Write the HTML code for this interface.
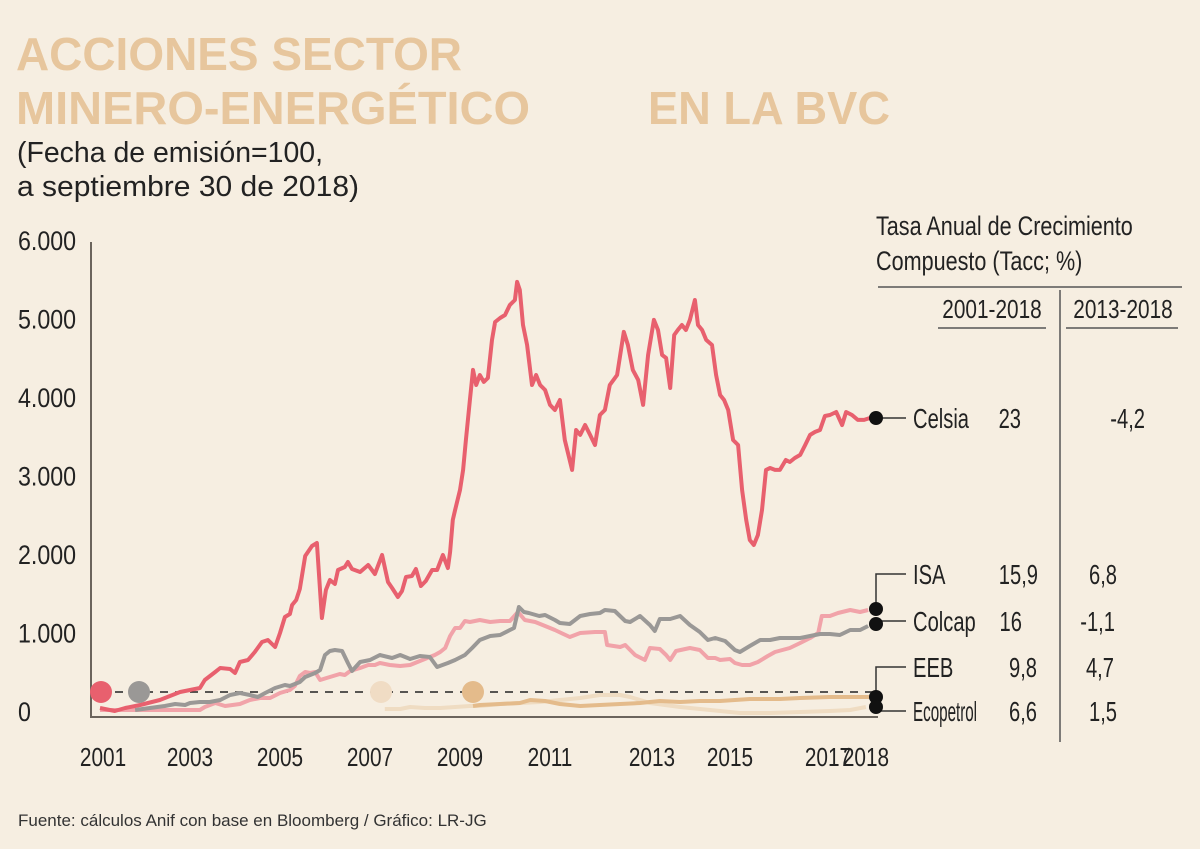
<!DOCTYPE html>
<html><head><meta charset="utf-8"><style>
body{margin:0;background:#f6eee1;}
svg{display:block;font-family:"Liberation Sans",sans-serif;}
</style></head><body>
<svg id="chart" width="1200" height="849" viewBox="0 0 1200 849" xmlns="http://www.w3.org/2000/svg">
<rect width="1200" height="849" fill="#f6eee1"/>
<g font-family="Liberation Sans, sans-serif" font-weight="bold" fill="#e7c69d" font-size="46">
<text x="16" y="70" textLength="446" lengthAdjust="spacingAndGlyphs">ACCIONES SECTOR</text>
<text x="16" y="124" textLength="514" lengthAdjust="spacingAndGlyphs">MINERO-ENERGÉTICO</text>
<text x="648" y="124" textLength="242" lengthAdjust="spacingAndGlyphs">EN LA BVC</text>
</g>
<g font-size="29" fill="#222" font-family="Liberation Sans, sans-serif">
<text x="17" y="162" textLength="306" lengthAdjust="spacingAndGlyphs">(Fecha de emisión=100,</text>
<text x="17" y="196" textLength="342" lengthAdjust="spacingAndGlyphs">a septiembre 30 de 2018)</text>
</g>
<g id="axes"></g>
<g id="series"></g>
<g id="table" fill="#222">
<line x1="878" y1="287" x2="1182" y2="287" stroke="#555" stroke-width="1.5"/>
<line x1="938" y1="328" x2="1046" y2="328" stroke="#555" stroke-width="1.5"/>
<line x1="1066" y1="328" x2="1178" y2="328" stroke="#555" stroke-width="1.5"/>
<line x1="1060" y1="290" x2="1060" y2="742" stroke="#555" stroke-width="1.5"/>
</g>
<text x="18" y="826" font-family="Liberation Sans, sans-serif" font-size="17" fill="#333">Fuente: cálculos Anif con base en Bloomberg / Gráfico: LR-JG</text>
</svg>
<script>
const yTicks=[0,1000,2000,3000,4000,5000,6000];
const yTickLabels=["0","1.000","2.000","3.000","4.000","5.000","6.000"];
const xTicks=[2001,2003,2005,2007,2009,2011,2013,2015,2017,2018];
const xTickLabels=["2001","2003","2005","2007","2009","2011","2013","2015","2017","2018"];
const celsiaDates=[2001.00,2001.33,2001.56,2001.89,2002.33,2002.78,2003.00,2003.22,2003.33,2003.56,2003.67,2003.89,2004.00,2004.11,2004.29,2004.44,2004.60,2004.73,2004.89,2005.00,2005.11,2005.22,2005.27,2005.36,2005.44,2005.56,2005.71,2005.82,2005.93,2006.02,2006.11,2006.22,2006.29,2006.44,2006.51,2006.60,2006.78,2006.96,2007.11,2007.27,2007.40,2007.49,2007.62,2007.71,2007.80,2007.93,2008.02,2008.13,2008.24,2008.38,2008.49,2008.62,2008.73,2008.78,2008.84,2008.89,2009.00,2009.07,2009.13,2009.22,2009.29,2009.36,2009.44,2009.53,2009.62,2009.71,2009.78,2009.89,2010.00,2010.11,2010.22,2010.27,2010.33,2010.40,2010.49,2010.60,2010.69,2010.78,2010.89,2011.00,2011.11,2011.22,2011.33,2011.49,2011.58,2011.67,2011.78,2011.89,2012.00,2012.11,2012.22,2012.33,2012.49,2012.64,2012.73,2012.84,2012.96,2013.07,2013.18,2013.31,2013.40,2013.49,2013.58,2013.67,2013.76,2013.84,2013.93,2014.02,2014.11,2014.22,2014.29,2014.38,2014.47,2014.60,2014.69,2014.78,2014.87,2014.96,2015.07,2015.18,2015.27,2015.36,2015.44,2015.53,2015.62,2015.71,2015.80,2015.89,2016.00,2016.11,2016.24,2016.33,2016.44,2016.56,2016.67,2016.78,2016.89,2017.00,2017.11,2017.22,2017.36,2017.49,2017.58,2017.71,2017.84,2017.98,2018.11];
const celsiaValues=[76,38,76,115,178,280,306,331,433,535,586,573,522,662,688,790,917,943,854,1032,1236,1274,1389,1452,1592,2013,2140,2178,1223,1580,1707,1656,1835,1873,1936,1847,1809,1898,1784,2026,1682,1605,1491,1567,1745,1758,1847,1631,1694,1835,1835,2026,1860,2064,2472,2599,2854,3109,3491,4000,4383,4191,4319,4230,4281,4765,4994,5045,5083,5211,5274,5504,5402,4956,4701,4191,4319,4191,4128,3937,3873,4000,3491,3109,3618,3555,3682,3555,3427,3809,3873,4191,4319,4867,4701,4383,4255,3937,4574,5020,4892,4574,4535,4153,4828,4892,4956,4892,5020,5274,4956,4892,4765,4701,4319,4064,4000,3873,3491,3427,2854,2472,2217,2153,2280,2599,3109,3134,3109,3109,3236,3210,3261,3300,3427,3555,3593,3618,3796,3809,3847,3682,3847,3809,3746,3746,3771];
const isaDates=[2001.00,2003.22,2003.33,2003.56,2003.78,2004.11,2004.33,2004.56,2004.78,2005.00,2005.22,2005.33,2005.44,2005.56,2005.67,2005.78,2005.89,2006.11,2006.33,2006.44,2006.56,2006.78,2006.96,2007.11,2007.22,2007.44,2007.67,2007.89,2008.11,2008.33,2008.44,2008.56,2008.67,2008.78,2008.89,2009.00,2009.11,2009.22,2009.44,2009.67,2009.89,2010.11,2010.29,2010.44,2010.67,2010.89,2011.11,2011.44,2011.67,2012.00,2012.22,2012.27,2012.56,2012.67,2012.89,2013.11,2013.22,2013.44,2013.58,2013.67,2013.80,2014.11,2014.33,2014.51,2014.67,2014.78,2015.00,2015.11,2015.27,2015.44,2015.62,2015.84,2016.00,2016.33,2016.56,2016.78,2016.96,2017.04,2017.22,2017.40,2017.67,2017.89,2018.07];
const isaValues=[51,51,89,140,102,127,178,204,204,268,306,357,484,535,522,535,433,471,510,497,548,586,624,624,650,624,612,624,675,726,752,790,841,994,1096,1096,1185,1172,1198,1172,1185,1185,1299,1198,1172,1121,1070,981,1032,1045,1045,879,854,879,752,688,841,828,752,688,803,841,815,713,713,688,701,650,624,624,662,739,790,841,905,968,1032,1249,1249,1287,1325,1299,1325];
const colcapDates=[2001.78,2002.11,2002.44,2002.67,2002.89,2003.00,2003.22,2003.44,2003.67,2003.89,2004.11,2004.33,2004.51,2004.67,2004.89,2005.11,2005.22,2005.44,2005.56,2005.78,2005.89,2006.00,2006.11,2006.22,2006.38,2006.51,2006.60,2006.78,2007.00,2007.22,2007.49,2007.67,2007.89,2008.11,2008.33,2008.49,2008.73,2008.89,2009.11,2009.27,2009.44,2009.67,2009.89,2010.11,2010.20,2010.31,2010.42,2010.53,2010.76,2010.89,2011.11,2011.22,2011.44,2011.67,2011.89,2012.11,2012.22,2012.44,2012.67,2012.78,2013.00,2013.22,2013.33,2013.44,2013.67,2013.89,2014.11,2014.33,2014.51,2014.67,2014.89,2015.11,2015.22,2015.44,2015.67,2015.89,2016.11,2016.33,2016.56,2016.78,2017.00,2017.22,2017.44,2017.67,2017.89,2018.07];
const colcapValues=[51,76,102,127,115,140,153,153,178,242,268,242,217,268,331,369,357,408,471,522,561,752,803,815,803,650,548,662,688,752,713,752,701,739,726,599,650,688,752,841,943,994,1006,1070,1096,1363,1299,1287,1249,1261,1198,1159,1147,1249,1274,1287,1325,1312,1185,1172,1249,1134,1057,1210,1210,1249,1134,1045,943,968,930,815,790,866,943,943,968,968,968,994,1019,1019,1006,1070,1070,1121];
const ecoDates=[2007.33,2007.67,2007.89,2008.22,2008.56,2008.89,2009.22,2009.44,2009.89,2010.78,2011.67,2012.11,2012.56,2012.78,2013.22,2013.89,2014.56,2015.22,2015.89,2016.56,2017.22,2017.67,2018.02];
const ecoValues=[64,64,89,76,76,89,102,102,127,153,204,242,242,217,140,89,51,13,13,25,38,51,89];
const eebDates=[2009.29,2009.44,2009.89,2010.33,2010.56,2010.89,2011.22,2011.67,2012.11,2012.56,2013.00,2013.44,2013.89,2014.33,2014.78,2015.44,2016.11,2016.56,2017.22,2017.67,2018.11];
const eebValues=[102,115,127,140,178,166,127,102,115,127,140,166,153,166,166,191,191,204,217,217,217];

const NS='http://www.w3.org/2000/svg';
const X0=100, PX_YEAR=45, Y0=714, PX_VAL=0.0785;
function xs(yr){return X0+(yr-2001)*PX_YEAR;}
function ys(v){return Y0-v*PX_VAL;}
function mk(tag,attrs,parent){const e=document.createElementNS(NS,tag);for(const k in attrs)e.setAttribute(k,attrs[k]);parent.appendChild(e);return e;}
function ctext(parent,x,y,str,anchor,size,sq){
  sq=sq||0.8;
  const t=mk('text',{x:(x/sq).toFixed(1),y:y,transform:`scale(${sq},1)`,'text-anchor':anchor||'start','font-size':size||26,fill:'#222'},parent);
  t.textContent=str;return t;
}
const axes=document.getElementById('axes');
const series=document.getElementById('series');
const table=document.getElementById('table');

const yAxis=mk('line',{x1:91,y1:242,x2:91,y2:717,stroke:'#6b645c','stroke-width':2},axes);


const xAxis=mk('line',{x1:90,y1:717,x2:878,y2:717,stroke:'#6b645c','stroke-width':2},axes);


yTicks.forEach((v,i)=>{
  const t=ctext(axes,18,ys(v)+7,yTickLabels[i],'start',27,0.86);
  
  
});
xTicks.forEach((v,i)=>{
  const off=v===2018?1:(v===2013?12:(v===2017?8:(v===2001?3:0)));
  const t=ctext(axes,xs(v)+off,766,xTickLabels[i],'middle',26);
  
  
});
const dash=mk('line',{x1:100,y1:692,x2:876,y2:692,stroke:'#222','stroke-width':1.5,'stroke-dasharray':'8 7'},axes);



function line(dates,vals,color,name){
  const d=dates.map((t,i)=>(i?'L':'M')+xs(t).toFixed(1)+','+ys(vals[i]).toFixed(1)).join('');
  const p=mk('path',{d:d,fill:'none',stroke:color,'stroke-width':4,'stroke-linejoin':'round'},series);
  
  
}
line(ecoDates,ecoValues,'#efdcc2','ecopetrol-line');
line(eebDates,eebValues,'#e4bb8b','eeb-line');
line(isaDates,isaValues,'#f1a3a9','isa-line');
line(colcapDates,colcapValues,'#9a9896','colcap-line');
line(celsiaDates,celsiaValues,'#e8606e','celsia-line');

[[101,'#e8606e','celsia-start-dot'],[139,'#9a9896','colcap-start-dot'],[381,'#f0dcc4','ecopetrol-start-dot'],[473,'#e4bb8b','eeb-start-dot']].forEach(a=>{
  const c=mk('circle',{cx:a[0],cy:692,r:11,fill:a[1]},series);
  
  
});

let h=ctext(table,876,235,'Tasa Anual de Crecimiento','start',27);


h=ctext(table,876,270,'Compuesto (Tacc; %)','start',27);


h=ctext(table,992,318,'2001-2018','middle',26);


h=ctext(table,1123,318,'2013-2018','middle',26);



const rows=[
 {n:'Celsia',dy:418,ty:418,a:'23',ax:1021,b:'-4,2',bx:1145},
 {n:'ISA',dy:609,ty:574,a:'15,9',ax:1038,b:'6,8',bx:1117},
 {n:'Colcap',dy:624,ty:621,a:'16',ax:1022,b:'-1,1',bx:1115},
 {n:'EEB',dy:697,ty:667,a:'9,8',ax:1037,b:'4,7',bx:1114},
 {n:'Ecopetrol',dy:707,ty:711,a:'6,6',ax:1037,b:'1,5',bx:1117}
];
rows.forEach(r=>{
  const k=r.n.toLowerCase();
  const pts=r.dy===r.ty?`876,${r.dy} 906,${r.ty}`:`876,${r.dy} 876,${r.ty} 906,${r.ty}`;
  const pl=mk('polyline',{points:pts,fill:'none',stroke:'#333','stroke-width':1.5},table);
  
  
  const c=mk('circle',{cx:876,cy:r.dy,r:7,fill:'#111'},table);
  
  
  const t1=ctext(table,913,r.ty+10,r.n,'start',28,0.72);
  if(r.n==='Ecopetrol'){t1.setAttribute('textLength',(64/0.72).toFixed(1));t1.setAttribute('lengthAdjust','spacingAndGlyphs');}
  
  
  const t2=ctext(table,r.ax,r.ty+10,r.a,'end',28,0.72);
  
  
  const t3=ctext(table,r.bx,r.ty+10,r.b,'end',28,0.72);
  
  
});
</script>
</body></html>
